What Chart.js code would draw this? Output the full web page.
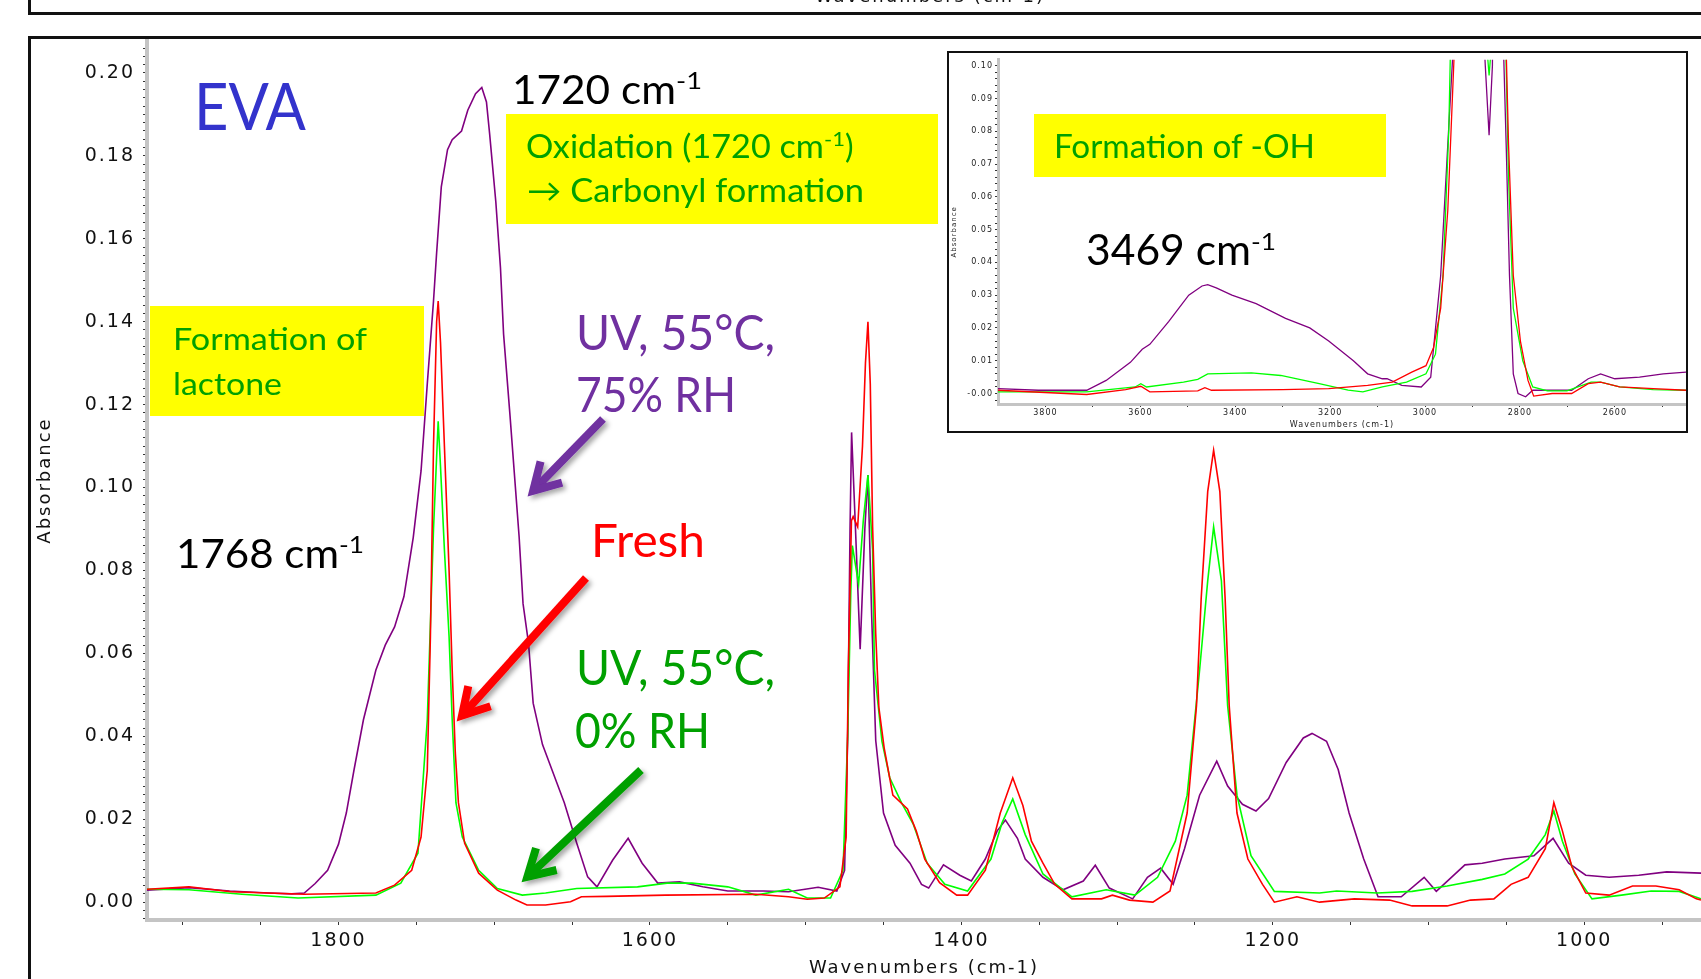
<!DOCTYPE html>
<html>
<head>
<meta charset="utf-8">
<title>EVA FTIR</title>
<script src="https://cdn.jsdelivr.net/npm/chart.js@4.4.1/dist/chart.umd.min.js"></script>
<style>
  html, body { margin: 0; padding: 0; background: #fff; }
  #page { position: relative; width: 1701px; height: 979px; overflow: hidden; background: #fff; }
  .frame { position: absolute; border: 0 solid #111; }
  #prevPanel { left: 28px; top: -20px; width: 1710px; height: 32px; border-left-width: 3px; border-bottom-width: 3px; }
  #mainFrame { left: 28px; top: 36px; width: 1710px; height: 1000px; border-left-width: 3px; border-top-width: 3px; }
  #mainChart { position: absolute; left: 0; top: 0; }
  #insetBox { position: absolute; left: 947px; top: 51px; width: 737px; height: 378px; border: 2px solid #111; background: #fff; }
  #insetChart { position: absolute; left: 0; top: 0; }
  #notes { position: absolute; left: 0; top: 0; }
</style>
</head>
<body>
<div id="page">
  <div class="frame" id="prevPanel"></div>
  <div class="frame" id="mainFrame"></div>
  <canvas id="mainChart" width="1701" height="979"></canvas>
  <div id="insetBox"><canvas id="insetChart" width="737" height="378"></canvas></div>
  <svg id="notes" width="1701" height="979" font-family="Lato">
    <defs>
      <filter id="shadow" x="-30%" y="-30%" width="160%" height="160%">
        <feDropShadow dx="3" dy="3" stdDeviation="2.5" flood-color="#000" flood-opacity="0.35"/>
      </filter>
    </defs>
    <text x="930" y="2" text-anchor="middle" font-family="DejaVu Sans" font-size="18" letter-spacing="2" fill="#111">Wavenumbers (cm-1)</text>

    <rect x="150" y="306" width="274" height="110" fill="#FFFF00"/>
    <rect x="506" y="114" width="432" height="110" fill="#FFFF00"/>
    <rect x="1034" y="114" width="352" height="63" fill="#FFFF00"/>

    <text x="194" y="130" font-size="65" fill="#3333CC" textLength="112" lengthAdjust="spacingAndGlyphs">EVA</text>

    <text x="512" y="104" font-size="40" fill="#000" textLength="164" lengthAdjust="spacingAndGlyphs">1720 cm</text>
    <text x="676" y="89" font-size="24" fill="#000" textLength="26" lengthAdjust="spacingAndGlyphs">-1</text>

    <text x="526" y="158" font-size="32" fill="#00A000" textLength="298" lengthAdjust="spacingAndGlyphs">Oxidation (1720 cm</text>
    <text x="824" y="146" font-size="19" fill="#00A000" textLength="21" lengthAdjust="spacingAndGlyphs">-1</text>
    <text x="845" y="158" font-size="32" fill="#00A000">)</text>
    <text x="527" y="202" font-size="32" fill="#00A000" textLength="337" lengthAdjust="spacingAndGlyphs">→ Carbonyl formation</text>

    <text x="173" y="350" font-size="31" fill="#00A000" textLength="194" lengthAdjust="spacingAndGlyphs">Formation of</text>
    <text x="173" y="395" font-size="31" fill="#00A000" textLength="109" lengthAdjust="spacingAndGlyphs">lactone</text>

    <text x="176" y="568" font-size="41" fill="#000" textLength="163" lengthAdjust="spacingAndGlyphs">1768 cm</text>
    <text x="339" y="553" font-size="24" fill="#000" textLength="25" lengthAdjust="spacingAndGlyphs">-1</text>

    <text x="576" y="350" font-size="48" fill="#7030A0" textLength="199" lengthAdjust="spacingAndGlyphs">UV, 55°C,</text>
    <text x="576" y="412" font-size="48" fill="#7030A0" textLength="160" lengthAdjust="spacingAndGlyphs">75% RH</text>
    <text x="591" y="557" font-size="47" fill="#FF0000" textLength="114" lengthAdjust="spacingAndGlyphs">Fresh</text>
    <text x="576" y="685" font-size="48" fill="#00A000" textLength="199" lengthAdjust="spacingAndGlyphs">UV, 55°C,</text>
    <text x="575" y="748" font-size="48" fill="#00A000" textLength="135" lengthAdjust="spacingAndGlyphs">0% RH</text>

    <text x="1054" y="158" font-size="32" fill="#00A000" textLength="261" lengthAdjust="spacingAndGlyphs">Formation of -OH</text>
    <text x="1086" y="265" font-size="42" fill="#000" textLength="165" lengthAdjust="spacingAndGlyphs">3469 cm</text>
    <text x="1251" y="250" font-size="24" fill="#000" textLength="25" lengthAdjust="spacingAndGlyphs">-1</text>
    <g id="arrows"></g>
  </svg>
</div>

<script>
// MAIN PANEL: 1925-925 cm-1
// Fresh
const freshWn = [1923, 1896, 1869, 1822, 1776, 1764, 1753, 1747, 1743, 1741, 1739, 1737, 1736, 1734.5, 1732, 1729, 1727, 1725, 1723, 1719, 1710, 1698, 1686, 1679, 1667, 1651, 1644, 1628, 1590, 1532, 1511, 1499, 1488, 1478, 1474, 1472.6, 1470.6, 1469.5, 1466.6, 1463.5, 1461.6, 1460, 1458.5, 1457, 1455, 1453, 1449.5, 1444, 1434.6, 1429, 1423.5, 1414, 1403, 1396, 1384.6, 1375, 1367, 1360.5, 1355, 1347.6, 1340, 1329, 1310, 1303, 1292, 1277, 1266, 1255, 1249, 1246, 1241.8, 1238, 1234, 1230.6, 1228, 1223, 1216, 1206.6, 1199, 1184.5, 1170, 1147.6, 1125, 1110.5, 1088, 1073, 1058, 1047, 1036, 1025, 1019.5, 1014, 1008, 999, 984, 969, 954, 939, 928, 925]
const freshAbs = [0.0031, 0.0037, 0.0025, 0.0019, 0.0022, 0.0041, 0.0077, 0.0157, 0.0318, 0.064, 0.11, 0.14, 0.145, 0.135, 0.11, 0.080, 0.056, 0.036, 0.024, 0.0142, 0.007, 0.0029, 0.0005, -0.0007, -0.0007, 0.0001, 0.0013, 0.0014, 0.0017, 0.0019, 0.0013, 0.0007, 0.001, 0.0037, 0.0157, 0.056, 0.092, 0.093, 0.0905, 0.11, 0.13, 0.140, 0.125, 0.0905, 0.0647, 0.047, 0.037, 0.0258, 0.0225, 0.0172, 0.0104, 0.0047, 0.0017, 0.0017, 0.0077, 0.0215, 0.030, 0.0233, 0.0147, 0.0094, 0.0043, 0.0008, 0.0008, 0.0017, 0.0005, 0.0, 0.0027, 0.0215, 0.0474, 0.0732, 0.099, 0.109, 0.099, 0.0732, 0.0474, 0.0215, 0.0104, 0.0043, 0.0, 0.0013, 0.0, 0.0008, 0.0005, -0.0009, -0.0009, 0.0005, 0.0008, 0.0043, 0.006, 0.0129, 0.024, 0.0172, 0.0086, 0.0022, 0.0017, 0.0039, 0.0039, 0.003, 0.0008, 0.0005]

// UV, 55°C, 0% RH
const dryWn = [1923, 1896, 1862, 1826, 1776, 1760, 1749, 1743, 1739, 1736, 1734.5, 1732, 1729, 1727, 1724.6, 1720.5, 1710, 1698, 1682, 1667, 1647, 1608, 1589, 1573, 1550, 1532, 1511, 1499, 1484, 1476, 1473, 1471, 1470, 1466, 1463, 1460, 1457, 1455.8, 1451, 1446, 1438.5, 1431, 1422, 1410.6, 1396, 1381, 1374, 1367, 1359, 1347.6, 1329, 1307, 1288.5, 1274, 1262.6, 1255, 1247, 1241.8, 1238, 1233, 1229, 1223, 1214, 1199, 1170, 1159, 1133, 1110.5, 1088, 1065.5, 1051, 1036, 1025, 1019.5, 1014, 1006, 995, 976, 957, 939, 925]
const dryAbs = [0.0031, 0.003, 0.0019, 0.001, 0.0017, 0.0046, 0.0118, 0.044, 0.09, 0.116, 0.105, 0.085, 0.064, 0.044, 0.024, 0.0157, 0.0077, 0.0033, 0.0017, 0.0022, 0.0033, 0.0037, 0.0046, 0.0046, 0.0037, 0.0017, 0.0031, 0.001, 0.001, 0.0077, 0.04, 0.075, 0.086, 0.0767, 0.092, 0.103, 0.085, 0.056, 0.0388, 0.030, 0.024, 0.0189, 0.0094, 0.0043, 0.0027, 0.0104, 0.019, 0.0249, 0.0163, 0.0068, 0.0013, 0.003, 0.0017, 0.006, 0.0147, 0.0258, 0.056, 0.0775, 0.0905, 0.0775, 0.0474, 0.0258, 0.0112, 0.0026, 0.0022, 0.0027, 0.0022, 0.0026, 0.0039, 0.0055, 0.0068, 0.0104, 0.0163, 0.022, 0.0147, 0.0068, 0.0008, 0.0017, 0.0027, 0.0026, 0.0008]

// UV, 55°C, 75% RH
const humidWn = [1923, 1896, 1870, 1845, 1830, 1822, 1815, 1807, 1800, 1795, 1790, 1784, 1776, 1770, 1764, 1758, 1752, 1747, 1743, 1739, 1737, 1734, 1730, 1727, 1721, 1717, 1712, 1708, 1705, 1703, 1699, 1696, 1694, 1690, 1687, 1684, 1681.5, 1678, 1675, 1669, 1663, 1655, 1647, 1640, 1634, 1624, 1614, 1605, 1595, 1581, 1566, 1550, 1527, 1511, 1492, 1480, 1475, 1473, 1471.5, 1470.5, 1468, 1465, 1462, 1460, 1457.6, 1455, 1450, 1442.5, 1433, 1425.6, 1421, 1411.5, 1401, 1393.6, 1384.6, 1377, 1371.7, 1364, 1359, 1347.6, 1334.7, 1321.7, 1314, 1305, 1290, 1280.5, 1272, 1264, 1256.7, 1247, 1236, 1229, 1219.5, 1210.8, 1202.7, 1191.4, 1180.4, 1174.8, 1165.5, 1158, 1151, 1141.6, 1132.4, 1117.5, 1102.8, 1095, 1076.6, 1065.5, 1051, 1032.3, 1020, 1010, 999, 984, 965, 947, 925]
const humidAbs = [0.0029, 0.0035, 0.0027, 0.0022, 0.002, 0.0022, 0.0045, 0.0077, 0.014, 0.0215, 0.032, 0.044, 0.056, 0.062, 0.0664, 0.0737, 0.088, 0.104, 0.125, 0.145, 0.1566, 0.1725, 0.1815, 0.1839, 0.186, 0.191, 0.195, 0.1965, 0.193, 0.1855, 0.169, 0.153, 0.137, 0.118, 0.103, 0.088, 0.072, 0.0625, 0.048, 0.038, 0.032, 0.024, 0.0142, 0.0061, 0.0037, 0.0101, 0.0154, 0.0094, 0.0046, 0.0049, 0.0037, 0.0027, 0.0027, 0.0025, 0.0036, 0.0027, 0.0077, 0.040, 0.09, 0.1133, 0.09, 0.061, 0.09, 0.103, 0.069, 0.039, 0.0215, 0.0137, 0.0094, 0.0043, 0.0034, 0.009, 0.0065, 0.0051, 0.0104, 0.0172, 0.0198, 0.0154, 0.0104, 0.006, 0.003, 0.0051, 0.0089, 0.0034, 0.0008, 0.006, 0.0082, 0.0043, 0.0129, 0.0258, 0.034, 0.028, 0.0236, 0.022, 0.025, 0.0337, 0.0396, 0.0407, 0.0388, 0.032, 0.0215, 0.0104, 0.0013, 0.0013, 0.006, 0.0026, 0.009, 0.0094, 0.0104, 0.0112, 0.0154, 0.0094, 0.0065, 0.006, 0.0065, 0.0073, 0.007]

// INSET: 3900-2450 cm-1 (the C-H peaks run off the top)
const insetFreshWn = [3900, 3713, 3631, 3599, 3580, 3479, 3464, 3450, 3300, 3203, 3121, 3069, 3028, 2998, 2982, 2967, 2952, 2939, 2925, 2900, 2870, 2850, 2835, 2829, 2824, 2814, 2799, 2783, 2771, 2732, 2691, 2656, 2630, 2590, 2519, 2450]
const insetFreshAbs = [0.001, -0.0003, 0.0012, 0.0022, 0.0005, 0.0008, 0.0018, 0.001, 0.0012, 0.0015, 0.0025, 0.0035, 0.0065, 0.0085, 0.014, 0.026, 0.056, 0.102, 0.3, 0.2, 0.15, 0.3, 0.15, 0.105, 0.076, 0.036, 0.016, 0.004, -0.0008, 0.0, 0.0, 0.003, 0.0035, 0.002, 0.0015, 0.001]

const insetDryWn = [3900, 3713, 3611, 3599, 3587, 3509, 3479, 3458, 3366, 3304, 3223, 3162, 3131, 3090, 3039, 2998, 2978, 2962, 2950, 2940, 2920, 2890, 2872, 2865, 2858, 2845, 2832, 2824, 2814, 2794, 2773, 2742, 2701, 2650, 2630, 2590, 2519, 2450]
const insetDryAbs = [0.0005, 0.0005, 0.002, 0.003, 0.002, 0.0035, 0.0043, 0.006, 0.0063, 0.0055, 0.003, 0.001, 0.0005, 0.002, 0.0035, 0.006, 0.012, 0.036, 0.08, 0.15, 0.3, 0.15, 0.11, 0.097, 0.11, 0.3, 0.12, 0.066, 0.026, 0.01, 0.002, 0.0008, 0.0008, 0.0035, 0.0035, 0.002, 0.0012, 0.001]

const insetHumidWn = [3900, 3815, 3713, 3672, 3621, 3596, 3580, 3540, 3498, 3470, 3458, 3440, 3407, 3356, 3294, 3243, 3203, 3151, 3121, 3090, 3080, 3049, 3008, 2988, 2967, 2952, 2942, 2930, 2918, 2900, 2880, 2873, 2865, 2858, 2850, 2840, 2834, 2829, 2822, 2814, 2804, 2788, 2773, 2742, 2691, 2656, 2630, 2600, 2548, 2498, 2450]
const insetHumidAbs = [0.0015, 0.001, 0.001, 0.004, 0.0095, 0.0135, 0.015, 0.022, 0.030, 0.0328, 0.0332, 0.0322, 0.030, 0.0274, 0.0229, 0.020, 0.016, 0.010, 0.006, 0.0045, 0.0045, 0.0025, 0.002, 0.005, 0.036, 0.076, 0.102, 0.25, 0.35, 0.2, 0.12, 0.1, 0.0788, 0.1, 0.28, 0.15, 0.102, 0.076, 0.036, 0.006, 0.0, -0.001, 0.001, 0.001, 0.001, 0.0045, 0.006, 0.0045, 0.005, 0.006, 0.0065]

// TICKS (labels every 200 cm-1 / 0.02 and 0.01 absorbance)
const mainXTicks = []
for (let w = 950; w <= 1900; w += 50) mainXTicks.push(w)
const mainYTicks = []
for (let i = -2; i <= 103; i++) mainYTicks.push(+(i * 0.002).toFixed(3))
const insetXTicks = []
for (let w = 2500; w <= 3800; w += 100) insetXTicks.push(w)
const insetYTicks = []
for (let i = -1; i <= 50; i++) insetYTicks.push(+(i * 0.002).toFixed(3))

const RED = '#FF0000'
const GREEN = '#00FF00'
const PURPLE = '#800080'


function pairs(wn, abs) {
    return wn.map((w, i) => ({ x: w, y: abs[i] }))
}

function isStep(v, step) {
    return Math.abs(v / step - Math.round(v / step)) < 1e-6
}

// the original axes have wide, spaced-out lettering
const letterSpacing = {
    id: 'letterSpacing',
    beforeUpdate(chart, args, opts) { chart.ctx.letterSpacing = opts.size },
    beforeDraw(chart, args, opts) { chart.ctx.letterSpacing = opts.size }
}

function spectra(fresh, dry, humid) {
    // red on top, purple underneath
    return [
        { label: 'Fresh', data: fresh, borderColor: RED },
        { label: 'UV, 55°C, 0% RH', data: dry, borderColor: GREEN },
        { label: 'UV, 55°C, 75% RH', data: humid, borderColor: PURPLE }
    ]
}


// MAIN CHART
const tickFont = { family: 'DejaVu Sans', size: 19 }
const titleFont = { family: 'DejaVu Sans', size: 18 }

const mainChart = new Chart(document.getElementById('mainChart').getContext('2d'), {
    type: 'line',
    data: {
        datasets: spectra(pairs(freshWn, freshAbs), pairs(dryWn, dryAbs), pairs(humidWn, humidAbs))
    },
    plugins: [letterSpacing],
    options: {
        responsive: false,
        animation: false,
        layout: { padding: { left: 31, top: 41, right: 0, bottom: 0 } },
        elements: {
            point: { radius: 0 },
            line: { borderWidth: 1.6, tension: 0 }
        },
        plugins: {
            legend: { display: false },
            tooltip: { enabled: false },
            letterSpacing: { size: '2px' }
        },
        scales: {
            x: {
                type: 'linear',
                reverse: true,
                min: 925,
                max: 1923,
                afterFit: scale => { scale.height = 59 },
                afterBuildTicks: scale => { scale.ticks = mainXTicks.map(v => ({ value: v })) },
                border: { color: '#c4c4c4', width: 4 },
                grid: { drawOnChartArea: false, tickLength: 5, tickColor: '#333' },
                ticks: {
                    autoSkip: false,
                    maxRotation: 0,
                    padding: 5,
                    color: '#111',
                    font: tickFont,
                    callback: v => v % 200 === 0 ? String(v) : ''
                },
                title: { display: true, text: 'Wavenumbers (cm-1)', color: '#111', font: titleFont, padding: { top: 0, bottom: 0 } }
            },
            y: {
                min: -0.0043,
                max: 0.2077,
                afterFit: scale => { scale.width = 116 },
                afterBuildTicks: scale => { scale.ticks = mainYTicks.map(v => ({ value: v })) },
                border: { color: '#c4c4c4', width: 4 },
                grid: { drawOnChartArea: false, tickLength: 4, tickColor: '#333' },
                ticks: {
                    autoSkip: false,
                    padding: 8,
                    color: '#111',
                    font: tickFont,
                    callback: v => isStep(v, 0.02) ? v.toFixed(2) : ''
                },
                title: { display: true, text: 'Absorbance', color: '#111', font: titleFont, padding: { top: 4, bottom: 0 } }
            }
        }
    }
})


// INSET CHART
const insetFont = { family: 'DejaVu Sans', size: 8 }

const insetChart = new Chart(document.getElementById('insetChart').getContext('2d'), {
    type: 'line',
    data: {
        datasets: spectra(pairs(insetFreshWn, insetFreshAbs), pairs(insetDryWn, insetDryAbs), pairs(insetHumidWn, insetHumidAbs))
    },
    plugins: [letterSpacing],
    options: {
        responsive: false,
        animation: false,
        layout: { padding: 0 },
        elements: {
            point: { radius: 0 },
            line: { borderWidth: 1.3, tension: 0 }
        },
        plugins: {
            legend: { display: false },
            tooltip: { enabled: false },
            letterSpacing: { size: '1px' }
        },
        scales: {
            x: {
                type: 'linear',
                reverse: true,
                min: 2450,
                max: 3900,
                afterFit: scale => { scale.height = 27 },
                afterBuildTicks: scale => { scale.ticks = insetXTicks.map(v => ({ value: v })) },
                border: { color: '#c4c4c4', width: 3 },
                grid: { drawOnChartArea: false, tickLength: 3, tickColor: '#333' },
                ticks: {
                    autoSkip: false,
                    maxRotation: 0,
                    padding: 1,
                    color: '#222',
                    font: insetFont,
                    callback: v => v % 200 === 0 ? String(v) : ''
                },
                title: { display: true, text: 'Wavenumbers (cm-1)', color: '#222', font: insetFont, padding: { top: 0, bottom: 1 } }
            },
            y: {
                min: -0.0032,
                max: 0.1018,
                afterFit: scale => { scale.width = 49 },
                afterBuildTicks: scale => { scale.ticks = insetYTicks.map(v => ({ value: v })) },
                border: { color: '#c4c4c4', width: 3 },
                grid: { drawOnChartArea: false, tickLength: 3, tickColor: '#333' },
                ticks: {
                    autoSkip: false,
                    padding: 2,
                    color: '#222',
                    font: insetFont,
                    callback: v => isStep(v, 0.01) ? (v === 0 ? '-0.00' : v.toFixed(2)) : ''
                },
                title: { display: true, text: 'Absorbance', color: '#222', font: { family: 'DejaVu Sans', size: 7 }, padding: { top: 1, bottom: 0 } }
            }
        }
    }
})


// ARROWS pointing at the three curves
const arrows = [
    { from: [603, 419], to: [529, 495], color: '#7030A0' },
    { from: [586, 578], to: [458, 720], color: '#FF0000' },
    { from: [641, 770], to: [523, 881], color: '#00A000' }
]

const svgNS = 'http://www.w3.org/2000/svg'
const arrowLayer = document.getElementById('arrows')

arrows.forEach(a => {
    const [x1, y1] = a.from
    const [x2, y2] = a.to
    const len = Math.hypot(x2 - x1, y2 - y1)
    const ux = (x2 - x1) / len
    const uy = (y2 - y1) / len
    const nx = -uy
    const ny = ux
    const tipX = x2 - ux * 6
    const tipY = y2 - uy * 6
    const head = 26
    const spread = 15

    const g = document.createElementNS(svgNS, 'g')
    g.setAttribute('filter', 'url(#shadow)')

    const shaft = document.createElementNS(svgNS, 'line')
    shaft.setAttribute('x1', x1)
    shaft.setAttribute('y1', y1)
    shaft.setAttribute('x2', tipX - ux * 3)
    shaft.setAttribute('y2', tipY - uy * 3)
    shaft.setAttribute('stroke', a.color)
    shaft.setAttribute('stroke-width', 8)

    const wings = document.createElementNS(svgNS, 'polyline')
    const pts = [
        [tipX - ux * head + nx * spread, tipY - uy * head + ny * spread],
        [tipX, tipY],
        [tipX - ux * head - nx * spread, tipY - uy * head - ny * spread]
    ]
    wings.setAttribute('points', pts.map(p => p.join(',')).join(' '))
    wings.setAttribute('fill', 'none')
    wings.setAttribute('stroke', a.color)
    wings.setAttribute('stroke-width', 8)
    wings.setAttribute('stroke-linejoin', 'miter')

    g.appendChild(shaft)
    g.appendChild(wings)
    arrowLayer.appendChild(g)
})
</script>
</body>
</html>
